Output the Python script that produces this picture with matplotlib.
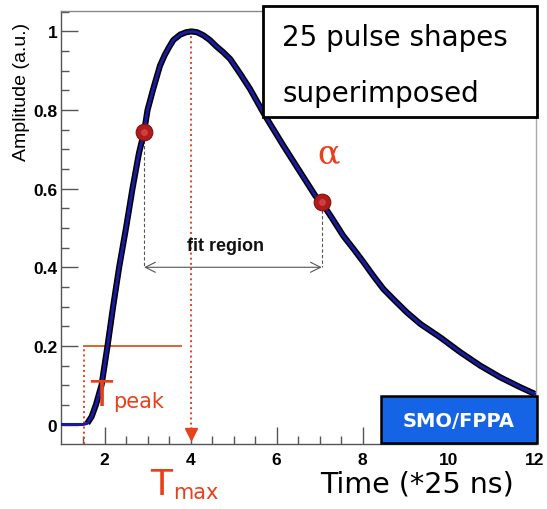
import matplotlib
matplotlib.use("Agg")
import matplotlib.pyplot as plt
from matplotlib.patches import Rectangle
import numpy as np

# ---- data ----
time = [1.0, 1.5, 1.6, 1.7, 1.8, 1.93, 2.07, 2.2, 2.34, 2.5, 2.65, 2.8, 2.92,
        3.0, 3.13, 3.29, 3.4, 3.5, 3.6, 3.76, 3.9, 4.02, 4.15, 4.3, 4.45,
        4.6, 4.75, 4.92, 5.15, 5.38, 5.73, 6.16, 6.55, 6.9, 7.05, 7.3, 7.55,
        7.8, 8.02, 8.25, 8.48, 8.75, 9.03, 9.34, 9.8, 10.27, 10.73, 11.2,
        11.66, 12.0]
amplitude = [0.0, 0.0, 0.003, 0.02, 0.05, 0.1, 0.2, 0.3, 0.4, 0.5, 0.6, 0.69,
             0.745, 0.8, 0.853, 0.913, 0.94, 0.96, 0.978, 0.992, 0.998, 1.0,
             0.998, 0.99, 0.978, 0.962, 0.948, 0.93, 0.893, 0.854, 0.786,
             0.709, 0.642, 0.582, 0.565, 0.523, 0.48, 0.445, 0.413, 0.378,
             0.345, 0.315, 0.285, 0.256, 0.222, 0.184, 0.15, 0.12, 0.095, 0.078]

fit_points_t = [2.92, 7.05]
fit_points_a = [0.745, 0.565]
fit_arrow_level = 0.4
t_start = 1.53
t_max = 4.02
level_20 = 0.2
level_20_end = 3.78

xticks = [2, 4, 6, 8, 10, 12]
yticks = [0, 0.2, 0.4, 0.6, 0.8, 1.0]
ytick_labels = ["0", "0.2", "0.4", "0.6", "0.8", "1"]

W, H = 547, 510
fig = plt.figure(figsize=(W / 100, H / 100), dpi=100)
ax = fig.add_axes([61.5 / W, 1 - 445 / H, (536 - 61.5) / W, (445 - 12) / H])
ax.set_xlim(1.0, 12.03)
ax.set_ylim(-0.0496, 1.052)

red = "#e8401a"
t_arr = np.array(time)
a_arr = np.array(amplitude)
mask = t_arr >= 1.6

# band of superimposed pulses (black) and average (blue)
ax.plot(t_arr[mask], a_arr[mask], color="black", lw=4.4, solid_capstyle="butt",
        solid_joinstyle="round", zorder=3)
ax.plot(t_arr, a_arr, color="#1a1a9e", lw=2.2, solid_joinstyle="round", zorder=4)

# fit-region markers
ax.plot(fit_points_t, fit_points_a, "o", ms=12, color="#b01c1c",
        markeredgecolor="#801010", mew=0.8, zorder=6)
ax.plot(fit_points_t, fit_points_a, "o", ms=5, color="#d85050",
        markeredgewidth=0, alpha=0.7, zorder=7)

# dashed verticals down to arrow
for tt, aa in zip(fit_points_t, fit_points_a):
    ax.plot([tt, tt], [aa - 0.02, fit_arrow_level], color="#555555", lw=0.8,
            ls=(0, (3, 2)), zorder=2)
ax.annotate("", xy=(fit_points_t[0], fit_arrow_level),
            xytext=(fit_points_t[1], fit_arrow_level),
            arrowprops=dict(arrowstyle="<->", color="#555555", lw=0.8,
                            mutation_scale=18, shrinkA=0, shrinkB=0), zorder=2)
ax.text(4.81, 0.455, "fit region", ha="center", va="center", fontsize=13,
        fontweight="bold", family="Liberation Sans", color="#111111")

# T_peak markings
ax.plot([t_start, t_start], [-0.0496, level_20], color=red, lw=1.4, ls=":", zorder=2)
ax.plot([t_start, level_20_end], [level_20, level_20], color="#e06030", lw=1.4, zorder=2)
ax.text(1.92, 0.05, "T", color=red, fontsize=26, ha="center", va="baseline", zorder=7)
ax.text(2.2, 0.045, "peak", color=red, fontsize=15, ha="left", va="baseline", zorder=7)

# T_max marking
ax.plot([t_max, t_max], [1.0, -0.02], color=red, lw=1.4, ls=":", zorder=2)
ax.plot([t_max], [-0.025], marker="v", ms=9, color=red, zorder=5, clip_on=False)
fig.text(161.5 / W, 1 - 495 / H, "T", color=red, fontsize=26, ha="center", va="baseline")
fig.text(173 / W, 1 - 499 / H, "max", color=red, fontsize=15, ha="left", va="baseline")

# alpha
ax.text(7.22, 0.69, "α", color=red, fontsize=24, family="DejaVu Serif",
        ha="center", va="center")

# axes styling
for s in ax.spines.values():
    s.set_color("#555555")
    s.set_linewidth(1.0)
ax.spines["right"].set_color("#aaaaaa")
ax.spines["top"].set_color("#888888")
ax.set_xticks(xticks)
ax.set_xticks(np.arange(1.5, 12.01, 0.5), minor=True)
ax.set_yticks(yticks)
ax.set_yticklabels(ytick_labels)
ax.set_yticks(np.arange(0, 1.051, 0.05), minor=True)
ax.tick_params(which="both", direction="in", color="#555555", width=1.0)
ax.tick_params(which="major", length=12)
ax.tick_params(which="minor", length=6)
ax.tick_params(axis="y", pad=3)
ax.tick_params(axis="x", pad=6)
for lab in ax.get_xticklabels() + ax.get_yticklabels():
    lab.set_fontfamily("Liberation Sans")
    lab.set_fontweight("bold")
    lab.set_fontsize(12.5)

fig.text(22 / W, 1 - 92 / H, "Amplitude (a.u.)", rotation=90, ha="center",
         va="center", fontsize=14, family="Liberation Sans")
fig.text(417 / W, 1 - 485 / H, "Time (*25 ns)", ha="center", va="center",
         fontsize=20.5, family="DejaVu Sans")

# text box top right
fig.patches.append(Rectangle((263 / W, 1 - 118 / H), 274 / W, 111 / H,
                             transform=fig.transFigure, facecolor="white",
                             edgecolor="black", lw=2, zorder=10))
fig.text(282 / W, 1 - 46 / H, "25 pulse shapes", fontsize=20, va="baseline",
         ha="left", zorder=11)
fig.text(282 / W, 1 - 102 / H, "superimposed", fontsize=20, va="baseline",
         ha="left", zorder=11)

# SMO/FPPA box
fig.patches.append(Rectangle((381 / W, 1 - 444 / H), 156 / W, 47 / H,
                             transform=fig.transFigure, facecolor="#1664e6",
                             edgecolor="black", lw=1.8, zorder=10))
fig.text(459 / W, 1 - 421.5 / H, "SMO/FPPA", color="white", fontsize=14,
         fontweight="bold", ha="center", va="center", zorder=11)

fig.savefig("out.png", dpi=100, facecolor="white")
